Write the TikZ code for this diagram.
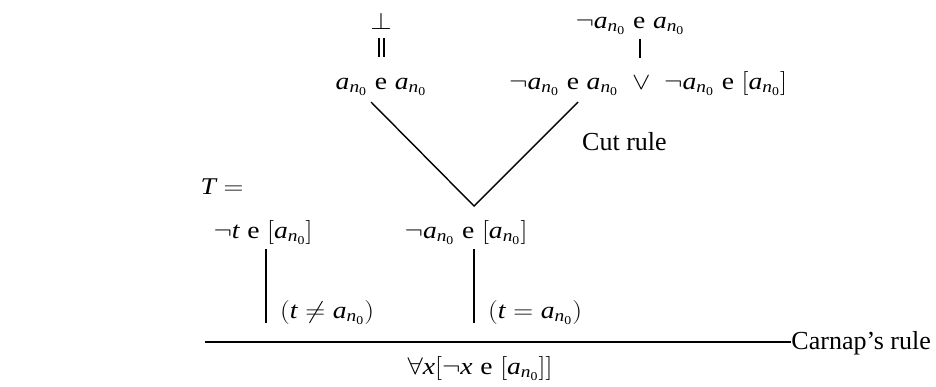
\RequirePackage{fix-cm}
\documentclass[tikz,border=0pt]{standalone}
\usepackage{graphicx}
\usepackage{fontspec}
\setmainfont{Liberation Serif}
\tikzset{
  lbl/.style={inner sep=0pt, font=\fontsize{24}{28}\selectfont},
  txt/.style={inner sep=0pt, font=\fontsize{26}{30}\selectfont},
  ln/.style={line width=1.4pt}
}
\newcommand{\M}[1]{\scalebox{1.15}[1]{$#1$}}
\newcommand{\ano}{\mathit{a}_{\mathit{n}_{\mathrm{0}}}}
\newcommand{\mye}{\mathrel{\mathrm{e}}}
\begin{document}
\begin{tikzpicture}[x=1pt,y=-1pt]
\useasboundingbox (0,0) rectangle (936,386);
% top left
\node[lbl,anchor=base] (bot) at (381,29) {\M{\bot}};
\node[lbl,anchor=base] (aea) at (381,89) {\M{\ano \mye \ano}};
\coordinate (d1a) at (379,38); \coordinate (d1b) at (379,57);
\coordinate (d2a) at (384,38); \coordinate (d2b) at (384,57);
\draw[line width=1.1pt] (d1a) -- (d1b) (d2a) -- (d2b);
% top right
\node[lbl,anchor=base] (naea) at (630,28) {\M{\neg\ano \mye \ano}};
\node[lbl,anchor=base west] (disj) at (509,89) {\M{\neg\ano \mye \ano \mkern5mu\vee\mkern5mu \neg\ano \mye [\ano]}};
\coordinate (vtop) at (640,39);
\coordinate (vbot) at (640,58);
\draw[ln] (vtop) -- (vbot);
% cut
\node[lbl,anchor=base] (lowmid) at (466,238) {\M{\neg\ano \mye [\ano]}};
\coordinate (apex) at (474,206);
\coordinate (lt) at (371,102);
\coordinate (rt) at (578,102);
\draw[ln] (lt) -- (apex) -- (rt);
\node[txt,anchor=base west] (cut) at (582,150) {Cut rule};
% T =
\node[lbl,anchor=base] (T) at (222,194) {\M{\mathit{T} =}};
% left branch
\node[lbl,anchor=base] (lowleft) at (263,238) {\M{\neg \mathit{t} \mye [\ano]}};
\coordinate (l1) at (266,249);
\coordinate (l2) at (266,323);
\coordinate (m1) at (474,249);
\coordinate (m2) at (474,323);
\draw[ln] (l1) -- (l2);
\draw[ln] (m1) -- (m2);
\node[lbl,anchor=base west] (neq) at (280,318) {\M{(\mathit{t} \neq \ano)}};
\node[lbl,anchor=base west] (eq) at (488,318) {\M{(\mathit{t} = \ano)}};
% Carnap
\coordinate (h1) at (205,342);
\node[txt,anchor=base east] (carnap) at (931,349) {Carnap's rule};
\draw[ln] (h1) -- (carnap.west |- h1);
\node[lbl,anchor=base] (concl) at (480,374) {\M{\forall \mathit{x}[\neg \mathit{x} \mye [\ano]]}};
\end{tikzpicture}
\end{document}
